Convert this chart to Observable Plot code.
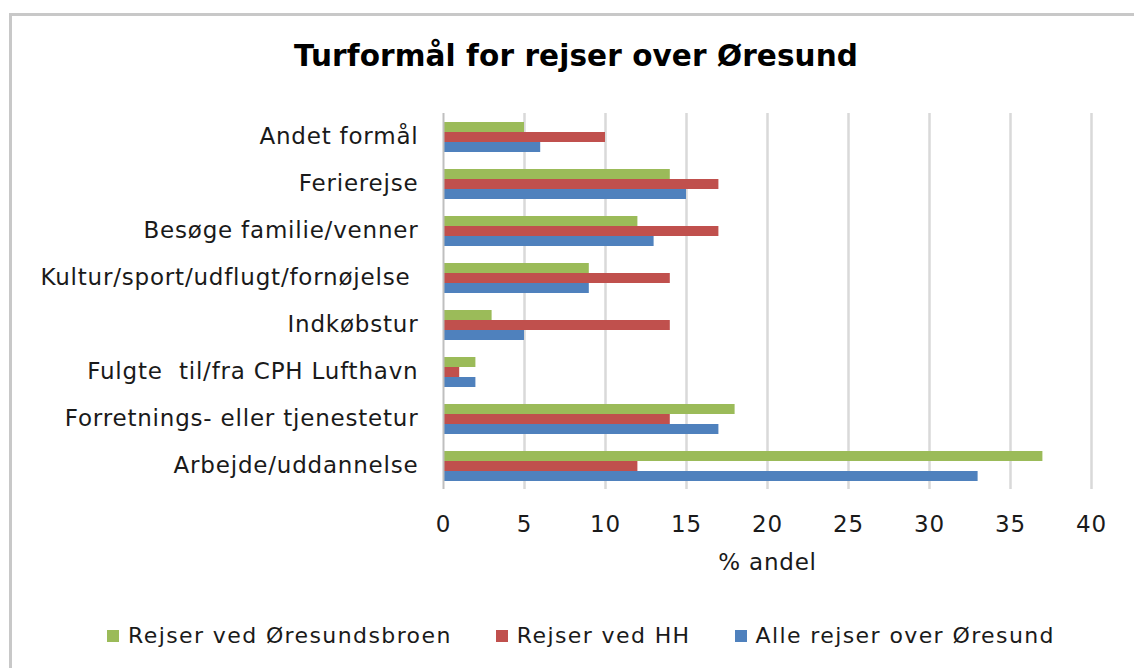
<!DOCTYPE html>
<html>
<head>
<meta charset="utf-8">
<script src="https://cdn.jsdelivr.net/npm/d3@7"></script>
<script src="https://cdn.jsdelivr.net/npm/@observablehq/plot@0.6"></script>
<style>
  html, body { margin: 0; padding: 0; background: #fff; }
  body { width: 1134px; height: 668px; overflow: hidden; position: relative; font-family: "DejaVu Sans", Verdana, sans-serif; }
  #frame { position: absolute; left: 9px; top: 13px; width: 1200px; height: 720px; border: 3px solid #c8c8c8; box-sizing: border-box; }
  #title { position: absolute; left: 20px; width: 1112px; top: 42px; text-align: center; font-weight: bold; font-size: 29.5px; line-height: 29px; color: #000; letter-spacing: 0.1px; }
  #chart { position: absolute; left: 0; top: 90px; }
  #legend { position: absolute; left: 107px; top: 624px; display: flex; align-items: center; font-size: 22px; letter-spacing: 1.4px; color: #1a1a1a; line-height: 24px; }
  .item { display: flex; align-items: center; margin-right: 44px; }
  .sw { width: 12px; height: 12px; margin-right: 9px; }
</style>
</head>
<body>
<div id="frame"></div>
<div id="title">Turformål for rejser over Øresund</div>
<div id="chart"></div>
<div id="legend"></div>
<script>
const categories = [
  "Andet formål",
  "Ferierejse",
  "Besøge familie/venner",
  "Kultur/sport/udflugt/fornøjelse ",
  "Indkøbstur",
  "Fulgte  til/fra CPH Lufthavn",
  "Forretnings- eller tjenestetur",
  "Arbejde/uddannelse"
];
const seriesNames = ["Rejser ved Øresundsbroen", "Rejser ved HH", "Alle rejser over Øresund"];
const seriesColors = ["#9BBB59", "#C0504D", "#4F81BD"];
const broen = [5, 14, 12, 9, 3, 2, 18, 37];
const hh    = [10, 17, 17, 14, 14, 1, 14, 12];
const alle  = [6, 15, 13, 9, 5, 2, 17, 33];
const xTicks = [0, 5, 10, 15, 20, 25, 30, 35, 40];

const seriesValues = [broen, hh, alle];
const data = [];
categories.forEach((c, i) => {
  seriesNames.forEach((s, j) => data.push({category: c, series: s, value: seriesValues[j][i]}));
});

const chart = Plot.plot({
  width: 1134,
  height: 500,
  marginLeft: 443,
  marginRight: 43,
  marginTop: 22,
  marginBottom: 101,
  style: {fontFamily: "DejaVu Sans, Verdana, sans-serif", fontSize: "23px", color: "#1a1a1a", background: "transparent", letterSpacing: "0.8px"},
  x: {domain: [0, 40], ticks: xTicks},
  fy: {domain: categories, padding: 0},
  y: {domain: seriesNames, paddingInner: 0, paddingOuter: 0.75, axis: null},
  color: {domain: seriesNames, range: seriesColors},
  marks: [
    Plot.gridX(xTicks.slice(1), {stroke: "#d9d9d9", strokeOpacity: 1, strokeWidth: 2.5}),
    Plot.barX(data, {fy: "category", y: "series", x: "value", fill: "series", inset: 0}),
    Plot.ruleX([0], {stroke: "#bfbfbf", strokeWidth: 2}),
    Plot.axisFy({anchor: "left", tickSize: 0, tickPadding: 25, label: null}),
    Plot.axisX({anchor: "bottom", tickSize: 0, tickPadding: 26, label: "% andel", labelAnchor: "center", labelArrow: "none", labelOffset: 80, facetAnchor: "bottom"})
  ]
});
document.getElementById("chart").appendChild(chart);

const legend = document.getElementById("legend");
seriesNames.forEach((s, j) => {
  const it = document.createElement("div");
  it.className = "item";
  const sw = document.createElement("div");
  sw.className = "sw";
  sw.style.background = seriesColors[j];
  const t = document.createElement("span");
  t.textContent = s;
  it.appendChild(sw);
  it.appendChild(t);
  legend.appendChild(it);
});
</script>
</body>
</html>
